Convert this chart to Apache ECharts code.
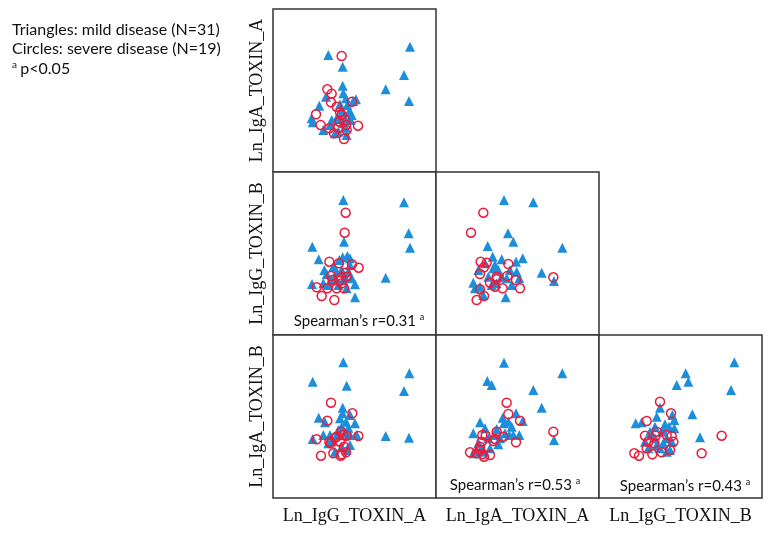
<!DOCTYPE html>
<html>
<head>
<meta charset="utf-8">
<script src="https://cdn.jsdelivr.net/npm/echarts@6/dist/echarts.min.js"></script>
<style>html,body{margin:0;padding:0;background:#fff;}#c{width:775px;height:537px;}</style>
</head>
<body>
<div id="c"></div>
<script>
// Variables of the scatterplot matrix
const variables = ['Ln_IgG_TOXIN_A', 'Ln_IgA_TOXIN_A', 'Ln_IgG_TOXIN_B', 'Ln_IgA_TOXIN_B'];
const legendLines = ['Triangles: mild disease (N=31)', 'Circles: severe disease (N=19)'];
const noteText = 'p<0.05';

// Panel A: x = IgG_TOXIN_A, y = IgA_TOXIN_A
const triA = [[3.32,7.02],[4.18,6.32],[8.22,7.52],[7.86,5.82],[6.76,4.96],[8.16,4.26],[4.18,5.18],[4.22,4.72],[4.38,4.42],[4.82,4.26],[4.98,4.36],[2.78,3.98],[3.18,4.52],[2.32,3.22],[2.38,2.98],[3.02,2.52],[3.82,3.22],[4.12,3.62],[4.58,3.66],[4.66,3.12],[4.42,2.22],[3.72,2.32],[3.42,2.82],[4.46,4.02],[4.02,4.06],[4.38,2.66],[4.18,2.92],[4.72,3.42],[3.92,2.42],[3.52,3.12],[4.32,3.22]];
const cirA = [[4.12,6.96],[3.26,4.96],[3.52,4.70],[3.48,4.18],[3.82,3.92],[2.58,3.46],[4.02,3.58],[4.12,3.42],[3.98,3.02],[2.86,2.82],[3.38,2.62],[3.66,2.32],[4.38,2.82],[4.42,2.52],[5.10,2.78],[4.74,4.22],[4.26,1.98],[4.32,3.12],[3.92,2.66]];

// Panel B: x = IgG_TOXIN_A, y = IgG_TOXIN_B
const triB = [[4.22,8.10],[7.86,7.96],[8.14,6.10],[8.22,5.24],[4.26,5.60],[2.36,5.30],[2.74,4.54],[4.18,4.66],[4.46,4.74],[3.98,4.50],[4.62,4.20],[3.08,3.90],[3.22,3.66],[6.76,3.44],[2.34,3.06],[4.92,3.04],[4.92,2.26],[4.42,2.80],[4.32,3.50],[3.72,3.40],[4.12,3.90],[4.52,3.80],[3.32,3.00],[3.62,4.10],[4.72,3.40],[3.92,3.00],[3.02,3.10],[4.22,3.30],[3.52,3.30],[3.82,3.80],[4.62,4.60]];
const cirB = [[4.36,7.34],[4.30,6.14],[3.38,4.40],[3.96,4.30],[4.74,4.24],[5.14,4.04],[4.36,3.74],[3.48,3.54],[4.10,3.46],[3.98,3.24],[3.58,3.30],[2.62,2.86],[3.26,2.80],[3.82,2.80],[4.26,2.80],[2.92,2.34],[3.68,2.10],[4.12,3.10],[4.42,3.50]];

// Panel C: x = IgA_TOXIN_A, y = IgG_TOXIN_B
const triC = [[4.08,8.10],[5.84,7.96],[4.32,6.10],[4.64,5.60],[3.10,5.34],[7.58,5.24],[3.40,4.70],[3.94,4.54],[5.20,4.60],[4.80,4.40],[2.94,4.30],[2.54,3.90],[3.44,4.00],[3.74,3.90],[4.44,3.90],[6.34,3.74],[7.08,3.24],[2.24,3.14],[5.00,3.40],[4.54,3.00],[4.18,2.26],[2.84,2.40],[3.14,3.50],[3.94,3.50],[2.64,2.90],[3.64,3.10],[4.24,3.40],[3.34,3.00],[4.84,3.80],[2.34,2.80],[3.54,4.20]];
const cirC = [[2.84,7.34],[2.10,6.14],[2.68,4.40],[3.04,4.34],[2.88,4.06],[4.34,4.26],[2.64,3.66],[3.64,3.50],[4.28,3.54],[3.24,3.14],[3.54,2.90],[4.00,2.80],[4.80,3.30],[5.04,2.80],[2.64,2.74],[2.88,2.34],[2.44,2.10],[7.04,3.46],[3.64,3.34]];

// Panel D: x = IgG_TOXIN_A, y = IgA_TOXIN_B
const triD = [[4.22,8.14],[8.18,7.48],[2.38,6.98],[4.42,6.74],[7.86,6.42],[4.18,5.42],[4.18,5.08],[2.74,4.82],[3.12,4.54],[4.92,4.48],[4.38,4.58],[4.02,4.78],[4.52,4.22],[3.92,4.08],[3.02,3.78],[2.38,3.54],[6.76,3.72],[8.16,3.62],[3.82,3.78],[4.32,3.88],[4.62,3.18],[3.52,3.42],[4.12,3.08],[3.42,3.78],[4.42,2.88],[3.72,2.78],[4.62,3.78],[3.32,3.28],[5.02,3.78],[4.12,4.28],[4.62,4.98]];
const cirD = [[3.48,5.72],[4.76,5.08],[3.26,4.64],[4.08,3.98],[4.22,3.78],[3.82,3.68],[4.42,3.74],[5.12,3.72],[2.62,3.52],[3.38,3.38],[3.46,3.28],[4.26,3.08],[4.02,3.38],[3.72,3.62],[2.88,2.54],[3.62,2.68],[4.12,2.62],[4.38,2.74],[4.06,2.54]];

// Panel E: x = IgA_TOXIN_A, y = IgA_TOXIN_B
const triE = [[4.08,8.12],[7.58,7.48],[3.08,7.02],[3.34,6.78],[5.84,6.48],[6.34,5.42],[4.80,5.08],[5.20,4.62],[4.00,4.82],[4.54,4.28],[4.08,4.48],[2.64,4.54],[2.94,4.18],[3.64,4.14],[2.24,3.88],[4.40,3.78],[5.00,3.78],[7.08,3.48],[3.74,3.22],[3.24,2.98],[2.54,3.28],[2.84,2.78],[4.14,3.88],[4.64,3.78],[3.54,3.78],[3.14,3.58],[2.44,2.78],[2.24,2.68],[3.84,3.58],[4.34,4.58],[2.74,2.98]];
const cirE = [[4.24,5.72],[4.34,5.04],[5.04,4.64],[7.04,3.98],[3.64,3.98],[2.78,3.78],[2.98,3.74],[4.04,3.68],[3.54,3.54],[2.74,3.38],[4.80,3.34],[2.64,3.08],[3.44,3.42],[2.04,2.74],[2.44,2.68],[2.80,2.64],[3.24,2.58],[2.88,2.48],[2.64,2.88]];

// Panel F: x = IgG_TOXIN_B, y = IgA_TOXIN_B
const triF = [[8.12,8.14],[5.20,7.48],[5.36,6.98],[4.66,6.78],[7.92,6.48],[3.66,5.42],[5.60,5.02],[4.40,4.98],[4.52,4.68],[3.46,4.88],[2.20,4.48],[2.56,4.54],[3.96,4.42],[4.20,4.28],[4.52,4.18],[3.36,4.28],[6.06,3.64],[3.76,3.98],[3.16,3.78],[3.86,3.28],[4.26,2.88],[4.06,3.58],[2.76,3.38],[3.36,3.58],[3.66,2.98],[4.36,3.38],[2.96,2.98],[3.86,4.08],[3.46,3.18],[3.06,3.98],[4.06,2.78]];
const cirF = [[3.66,5.78],[4.32,5.08],[2.86,4.62],[7.36,3.74],[3.46,3.98],[2.76,3.74],[3.40,3.74],[4.36,3.72],[2.96,3.38],[3.32,3.28],[4.46,3.38],[4.06,3.78],[2.86,2.98],[2.12,2.68],[2.40,2.54],[3.20,2.62],[3.76,2.74],[6.16,2.68],[4.26,2.88]];

// Spearman correlations shown in panels
const spearman = { B: '0.31', E: '0.53', F: '0.43' };

const panels = [
  { id: 'A', r: 0, c: 0, tri: triA, cir: cirA },
  { id: 'B', r: 1, c: 0, tri: triB, cir: cirB },
  { id: 'C', r: 1, c: 1, tri: triC, cir: cirC },
  { id: 'D', r: 2, c: 0, tri: triD, cir: cirD },
  { id: 'E', r: 2, c: 1, tri: triE, cir: cirE },
  { id: 'F', r: 2, c: 2, tri: triF, cir: cirF }
];

const LEFT0 = 273, TOP0 = 9, CELL = 163;
const AXMAX = 9.78;
const serif = 'Liberation Serif';
const sans = 'Lato';

const grid = [], xAxis = [], yAxis = [], series = [];
panels.forEach((p, i) => {
  grid.push({ left: LEFT0 + p.c * CELL, top: TOP0 + p.r * CELL, width: CELL, height: CELL,
    show: true, borderColor: '#333', borderWidth: 1.5, backgroundColor: '#fff' });
  xAxis.push({ gridIndex: i, type: 'value', min: 0, max: AXMAX,
    axisLine: { show: false }, axisTick: { show: false }, axisLabel: { show: false }, splitLine: { show: false },
    name: p.r === 2 ? variables[p.c] : '', nameLocation: 'middle', nameGap: 9,
    nameTextStyle: { fontFamily: serif, fontSize: 18, color: '#111' } });
  yAxis.push({ gridIndex: i, type: 'value', min: 0, max: AXMAX,
    axisLine: { show: false }, axisTick: { show: false }, axisLabel: { show: false }, splitLine: { show: false },
    name: p.c === 0 ? variables[p.r + 1] : '', nameLocation: 'middle', nameGap: 7, nameRotate: 90,
    nameTextStyle: { fontFamily: serif, fontSize: 18, color: '#111' } });
  series.push({ type: 'scatter', xAxisIndex: i, yAxisIndex: i, data: p.tri, symbol: 'triangle', symbolSize: 10,
    itemStyle: { color: '#1c8fdc', opacity: 1 }, silent: true, z: 2 });
  series.push({ type: 'scatter', xAxisIndex: i, yAxisIndex: i, data: p.cir, symbol: 'circle', symbolSize: 9,
    itemStyle: { color: 'rgba(255,255,255,0)', borderColor: '#ea1c3c', borderWidth: 1.5, opacity: 1 }, silent: true, z: 3 });
});

const graphic = [
  { type: 'text', left: 12, top: 22, style: { text: legendLines[0], font: '16px ' + sans, fill: '#111' } },
  { type: 'text', left: 12, top: 41, style: { text: legendLines[1], font: '16px ' + sans, fill: '#111' } },
  { type: 'text', left: 12, top: 60, style: { text: '{s|a} {t|' + noteText + '}',
      rich: { s: { fontSize: 10, fontFamily: sans, fill: '#111', padding: [0, 0, 7, 0] }, t: { fontSize: 16, fontFamily: sans, fill: '#111' } } } }
];
const rhoPos = { B: [359, 321], E: [515, 485], F: [685, 486] };
Object.keys(spearman).forEach(k => {
  graphic.push({ type: 'text', x: rhoPos[k][0], y: rhoPos[k][1], z: 10,
    style: { text: '{t|Spearman\u2019s r=' + spearman[k] + ' }{s|a}', align: 'center', verticalAlign: 'middle',
      rich: { t: { fontSize: 15, fontFamily: sans, fill: '#111' }, s: { fontSize: 9, fontFamily: sans, fill: '#111', padding: [0, 0, 7, 0] } } } });
});

const chart = echarts.init(document.getElementById('c'));
chart.setOption({ animation: false, backgroundColor: '#fff', grid, xAxis, yAxis, series, graphic });
</script>
</body>
</html>
